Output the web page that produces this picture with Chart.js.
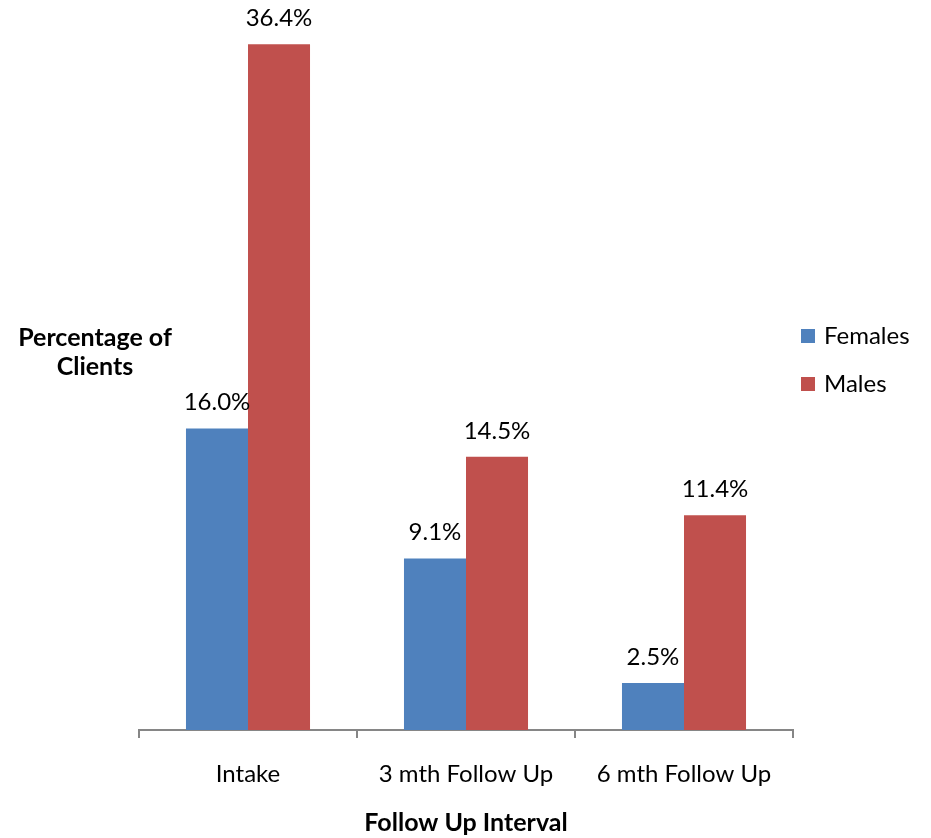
<!DOCTYPE html>
<html>
<head>
<meta charset="utf-8">
<script src="https://cdn.jsdelivr.net/npm/chart.js@4.4.1/dist/chart.umd.min.js"></script>
<style>
  html, body { margin: 0; padding: 0; background: #ffffff; }
  #wrap { width: 931px; height: 838px; }
</style>
</head>
<body>
<div id="wrap"><canvas id="chart" width="931" height="838"></canvas></div>
<script>
const categories = ['Intake', '3 mth Follow Up', '6 mth Follow Up'];
const femaleValues = [16.0, 9.1, 2.5];
const maleValues = [36.4, 14.5, 11.4];
const seriesNames = ['Females', 'Males'];
const seriesColors = ['#4F81BD', '#C0504D'];
const yTitleLines = ['Percentage of', 'Clients'];
const xTitle = 'Follow Up Interval';

const FONT = 'Lato, "Open Sans", sans-serif';

// Percent labels above each bar
const valueLabels = {
  id: 'valueLabels',
  afterDatasetsDraw(chart) {
    const ctx = chart.ctx;
    ctx.save();
    ctx.font = '24px ' + FONT;
    ctx.fillStyle = '#000000';
    ctx.textAlign = 'center';
    ctx.textBaseline = 'middle';
    chart.data.datasets.forEach((ds, i) => {
      chart.getDatasetMeta(i).data.forEach((bar, j) => {
        ctx.fillText(ds.data[j].toFixed(1) + '%', bar.x, bar.y - 26);
      });
    });
    ctx.restore();
  }
};

// Horizontal y-axis caption on the left
const sideTitle = {
  id: 'sideTitle',
  afterDraw(chart) {
    const ctx = chart.ctx;
    ctx.save();
    ctx.font = 'bold 25px ' + FONT;
    ctx.fillStyle = '#000000';
    ctx.textAlign = 'center';
    ctx.textBaseline = 'middle';
    yTitleLines.forEach((line, k) => ctx.fillText(line, 95, 338 + k * 29));
    ctx.restore();
  }
};

// Legend on the right
const sideLegend = {
  id: 'sideLegend',
  afterDraw(chart) {
    const ctx = chart.ctx;
    ctx.save();
    ctx.font = '24px ' + FONT;
    ctx.textAlign = 'left';
    ctx.textBaseline = 'middle';
    chart.data.datasets.forEach((ds, i) => {
      const cy = 336 + i * 48;
      ctx.fillStyle = ds.backgroundColor;
      ctx.fillRect(801, cy - 7, 14, 14);
      ctx.fillStyle = '#000000';
      ctx.fillText(ds.label, 824, cy);
    });
    ctx.restore();
  }
};

new Chart(document.getElementById('chart'), {
  type: 'bar',
  data: {
    labels: categories,
    datasets: [
      { label: seriesNames[0], data: femaleValues, backgroundColor: seriesColors[0] },
      { label: seriesNames[1], data: maleValues, backgroundColor: seriesColors[1] }
    ]
  },
  options: {
    responsive: false,
    animation: false,
    devicePixelRatio: 1,
    layout: { padding: { left: 139, right: 138, top: 14, bottom: 0 } },
    datasets: { bar: { categoryPercentage: 0.569, barPercentage: 1.0 } },
    plugins: { legend: { display: false }, tooltip: { enabled: false } },
    scales: {
      y: { display: false, min: 0, max: 38 },
      x: {
        afterFit(scale) { scale.height = 108; },
        border: { display: true, color: '#868686', width: 2 },
        grid: { display: true, drawOnChartArea: false, drawTicks: true, tickLength: 8, color: '#868686', lineWidth: 2, offset: true },
        ticks: { color: '#000000', font: { family: FONT, size: 24 }, padding: 22, maxRotation: 0 },
        title: { display: true, text: xTitle, color: '#000000', font: { family: FONT, size: 25, weight: 'bold' }, padding: { top: 0, bottom: 0 } }
      }
    }
  },
  plugins: [valueLabels, sideTitle, sideLegend]
});
</script>
</body>
</html>
